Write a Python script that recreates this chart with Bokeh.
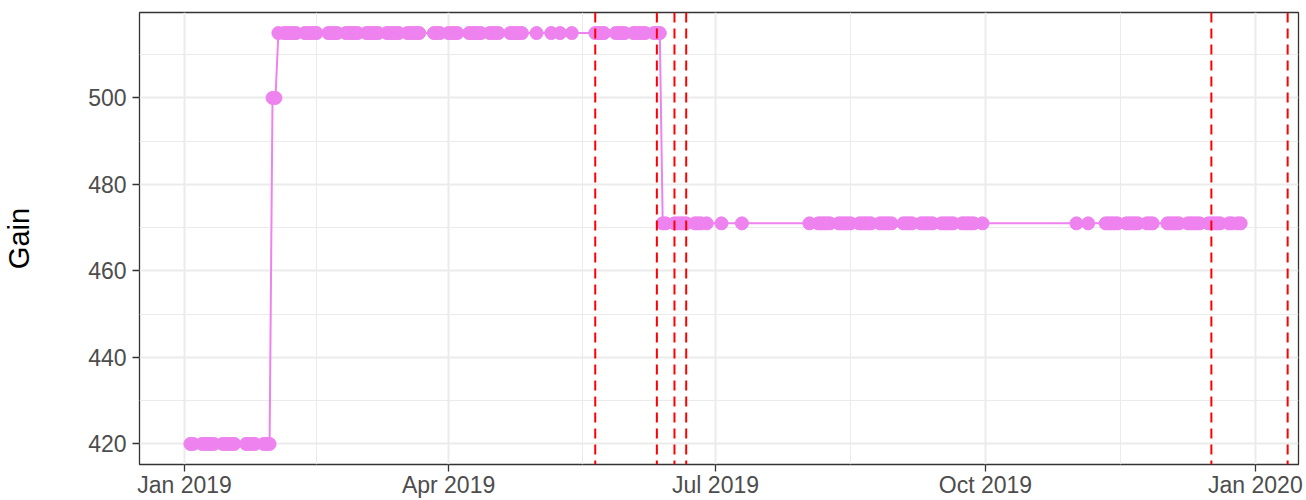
import pandas as pd
from bokeh.plotting import figure
from bokeh.models import FixedTicker, DatetimeTickFormatter, Span, Range1d, ColumnDataSource
from bokeh.embed import file_html
from bokeh.resources import INLINE

# ---- data ----
dates_420 = ["2019-01-03", "2019-01-04", "2019-01-07", "2019-01-08", "2019-01-09", "2019-01-10",
             "2019-01-11", "2019-01-14", "2019-01-15", "2019-01-16", "2019-01-17", "2019-01-18",
             "2019-01-22", "2019-01-23", "2019-01-24", "2019-01-25", "2019-01-28", "2019-01-29",
             "2019-01-30"]
gain_420 = 420

dates_500 = ["2019-01-31", "2019-02-01"]
gain_500 = 500

dates_515 = ["2019-02-02", "2019-02-04", "2019-02-05", "2019-02-06", "2019-02-07", "2019-02-08",
             "2019-02-11", "2019-02-12", "2019-02-13", "2019-02-14", "2019-02-15", "2019-02-19",
             "2019-02-20", "2019-02-21", "2019-02-22", "2019-02-25", "2019-02-26", "2019-02-27",
             "2019-02-28", "2019-03-01", "2019-03-04", "2019-03-05", "2019-03-06", "2019-03-07",
             "2019-03-08", "2019-03-11", "2019-03-12", "2019-03-13", "2019-03-14", "2019-03-15",
             "2019-03-18", "2019-03-19", "2019-03-20", "2019-03-21", "2019-03-22", "2019-03-27",
             "2019-03-28", "2019-03-29", "2019-04-01", "2019-04-02", "2019-04-03", "2019-04-04",
             "2019-04-08", "2019-04-09", "2019-04-10", "2019-04-11", "2019-04-12", "2019-04-15",
             "2019-04-16", "2019-04-17", "2019-04-18", "2019-04-22", "2019-04-23", "2019-04-24",
             "2019-04-25", "2019-04-26", "2019-05-01", "2019-05-06", "2019-05-09", "2019-05-13",
             "2019-05-21", "2019-05-22", "2019-05-23", "2019-05-24", "2019-05-28", "2019-05-29",
             "2019-05-30", "2019-05-31", "2019-06-03", "2019-06-04", "2019-06-05", "2019-06-06",
             "2019-06-07", "2019-06-10", "2019-06-11", "2019-06-12"]
gain_515 = 515

dates_471 = ["2019-06-13", "2019-06-14", "2019-06-17", "2019-06-18", "2019-06-19", "2019-06-20",
             "2019-06-21", "2019-06-24", "2019-06-25", "2019-06-26", "2019-06-28", "2019-07-03",
             "2019-07-10",
             "2019-08-02", "2019-08-05", "2019-08-06", "2019-08-07", "2019-08-08", "2019-08-09",
             "2019-08-12", "2019-08-13", "2019-08-14", "2019-08-15", "2019-08-16", "2019-08-19",
             "2019-08-20", "2019-08-21", "2019-08-22", "2019-08-23", "2019-08-26", "2019-08-27",
             "2019-08-28", "2019-08-29", "2019-08-30", "2019-09-03", "2019-09-04", "2019-09-05",
             "2019-09-06", "2019-09-09", "2019-09-10", "2019-09-11", "2019-09-12", "2019-09-13",
             "2019-09-16", "2019-09-17", "2019-09-18", "2019-09-19", "2019-09-20", "2019-09-23",
             "2019-09-24", "2019-09-25", "2019-09-26", "2019-09-27", "2019-09-30",
             "2019-11-01", "2019-11-05",
             "2019-11-11", "2019-11-12", "2019-11-13", "2019-11-14", "2019-11-15", "2019-11-18",
             "2019-11-19", "2019-11-20", "2019-11-21", "2019-11-22", "2019-11-25", "2019-11-26",
             "2019-11-27", "2019-12-02", "2019-12-03", "2019-12-04", "2019-12-05", "2019-12-06",
             "2019-12-09", "2019-12-10", "2019-12-11", "2019-12-12", "2019-12-13", "2019-12-16",
             "2019-12-17", "2019-12-18", "2019-12-19", "2019-12-20", "2019-12-23", "2019-12-24",
             "2019-12-26", "2019-12-27"]
gain_471 = 471

event_dates = ["2019-05-21", "2019-06-11", "2019-06-17", "2019-06-21", "2019-12-17", "2020-01-12"]

x_tick_dates = ["2019-01-01", "2019-04-01", "2019-07-01", "2019-10-01", "2020-01-01"]
y_ticks = [420, 440, 460, 480, 500]
y_minor_ticks = [410, 430, 450, 470, 490, 510]

# ---- build table ----
rows = ([(d, gain_420) for d in dates_420] + [(d, gain_500) for d in dates_500] +
        [(d, gain_515) for d in dates_515] + [(d, gain_471) for d in dates_471])
df = pd.DataFrame(rows, columns=["date", "gain"])
df["date"] = pd.to_datetime(df["date"])
df = df.sort_values("date")
src = ColumnDataSource(df)


def ms(s):
    return pd.Timestamp(s).timestamp() * 1000.0


day = 86400000.0
x0 = ms("2019-01-01")
x_start = x0 - 15.34 * day
x_end = x0 + 379.7 * day

major_x = [ms(s) for s in x_tick_dates]
minor_x = [(a + b) / 2 for a, b in zip(major_x[:-1], major_x[1:])]

p = figure(width=1306, height=500, x_axis_type="datetime", output_backend="svg",
           toolbar_location=None, x_range=Range1d(x_start, x_end),
           y_range=Range1d(415.25, 519.75),
           min_border_left=139, min_border_right=8, min_border_top=12, min_border_bottom=35)
p.background_fill_color = "white"
p.border_fill_color = "white"
p.outline_line_color = "#333333"
p.outline_line_width = 1.3

xt = FixedTicker(ticks=major_x, minor_ticks=minor_x)
yt = FixedTicker(ticks=y_ticks, minor_ticks=y_minor_ticks)
p.xaxis.ticker = xt
p.yaxis.ticker = yt
p.xgrid.ticker = xt
p.ygrid.ticker = yt
fmt = "%b %Y"
p.xaxis.formatter = DatetimeTickFormatter(milliseconds=fmt, seconds=fmt, minsec=fmt, minutes=fmt,
                                          hourmin=fmt, hours=fmt, days=fmt, months=fmt, years=fmt)

for g in (p.xgrid, p.ygrid):
    g.grid_line_color = "#EBEBEB"
    g.grid_line_width = 2
    g.minor_grid_line_color = "#EBEBEB"
    g.minor_grid_line_width = 1

for ax in (p.xaxis, p.yaxis):
    ax.axis_line_color = None
    ax.major_tick_line_color = "#333333"
    ax.major_tick_line_width = 1.3
    ax.major_tick_out = 7
    ax.major_tick_in = 0
    ax.minor_tick_line_color = None
    ax.major_label_text_font = "Liberation Sans"
    ax.major_label_text_font_size = "23px"
    ax.major_label_text_color = "#4D4D4D"

p.xaxis.major_label_standoff = 0
p.yaxis.major_label_standoff = 6
p.yaxis.axis_label = "Gain"
p.yaxis.axis_label_text_font = "Liberation Sans"
p.yaxis.axis_label_text_font_size = "29px"
p.yaxis.axis_label_text_font_style = "normal"
p.yaxis.axis_label_text_color = "black"
p.yaxis.axis_label_standoff = 50

p.line("date", "gain", source=src, line_color="#EE82EE", line_width=2)
p.scatter("date", "gain", source=src, size=13, fill_color="#EE82EE", line_color="#EE82EE")

for d in event_dates:
    p.add_layout(Span(location=ms(d), dimension="height", line_color="#FF0000",
                      line_dash="10 6", line_width=2))

open("out.html", "w").write(file_html(p, INLINE))
